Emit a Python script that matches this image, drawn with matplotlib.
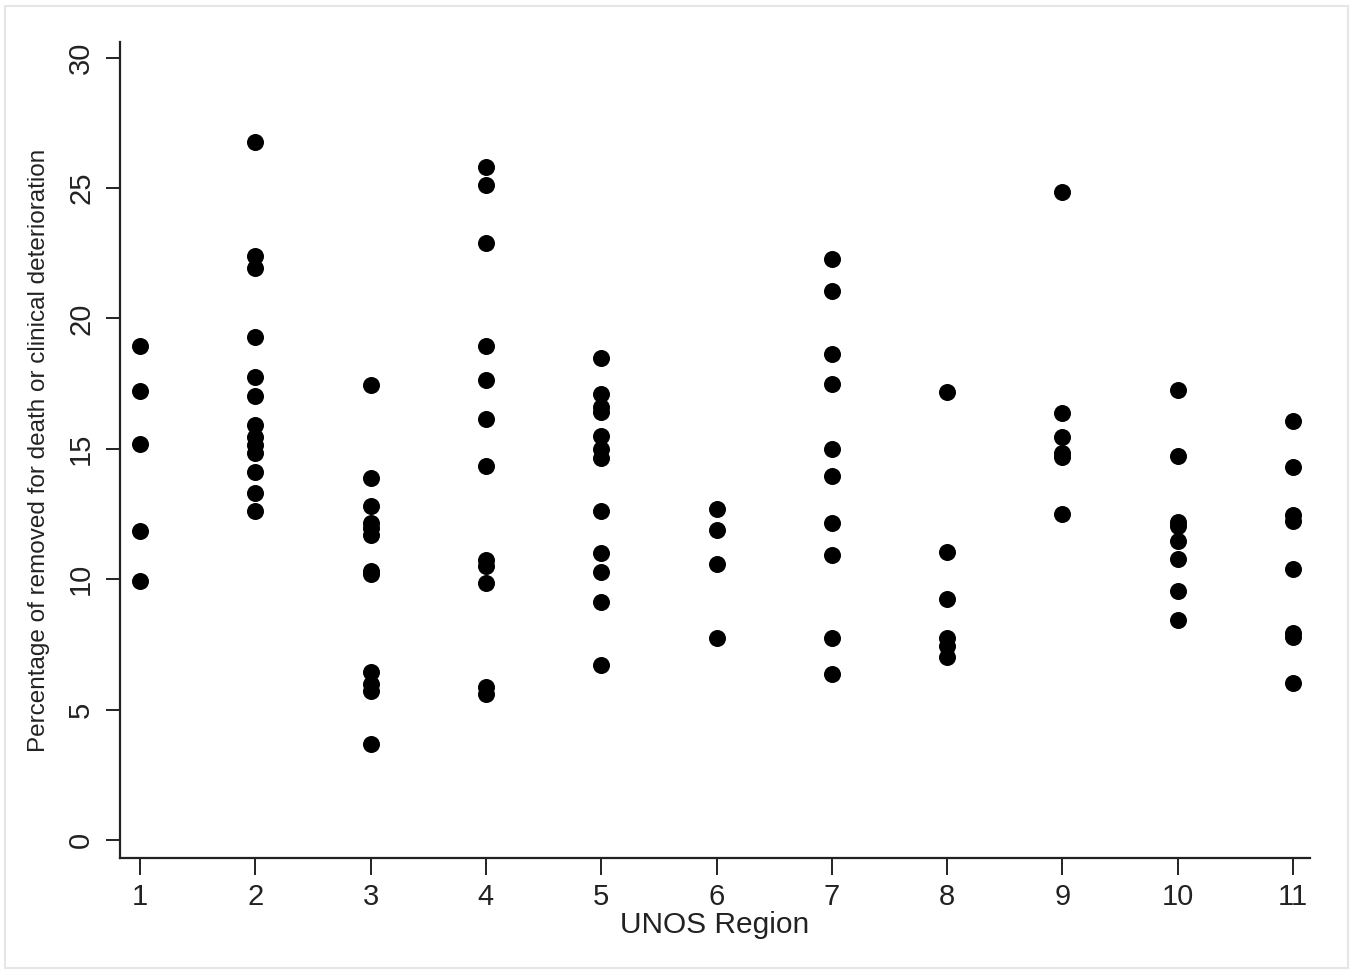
import matplotlib.pyplot as plt
from matplotlib.patches import Rectangle

plt.rcParams['font.family'] = ['Liberation Sans', 'DejaVu Sans']

# removal percentages per UNOS region
region1 = [18.95, 17.2, 15.2, 11.85, 9.95]
region2 = [26.75, 22.4, 21.95, 19.27, 17.75, 17.03, 15.9, 15.45, 15.15, 14.83, 14.13, 13.32, 12.63]
region3 = [17.43, 13.87, 12.79, 12.15, 11.95, 11.7, 10.3, 10.2, 6.46, 6.0, 5.7, 3.67]
region4 = [25.8, 25.12, 22.9, 18.96, 17.62, 16.16, 14.36, 10.75, 10.5, 9.87, 5.88, 5.6]
region5 = [18.47, 17.11, 16.6, 16.4, 15.5, 14.99, 14.64, 12.63, 11.02, 10.27, 9.12, 6.71]
region6 = [12.68, 11.87, 10.59, 7.76]
region7 = [22.29, 21.07, 18.62, 17.49, 15.0, 13.94, 12.15, 10.91, 7.76, 6.37]
region8 = [17.17, 11.06, 9.24, 7.74, 7.42, 7.03]
region9 = [24.86, 16.38, 15.47, 14.85, 14.67, 12.5]
region10 = [17.24, 14.71, 12.2, 12.05, 11.47, 10.78, 9.53, 8.43]
region11 = [16.06, 14.32, 12.45, 12.25, 10.41, 7.95, 7.8, 6.03]

regions = [region1, region2, region3, region4, region5, region6,
           region7, region8, region9, region10, region11]
y_ticks = [0, 5, 10, 15, 20, 25, 30]

fig = plt.figure(figsize=(13.55, 9.76), dpi=100)
fig.patches.append(Rectangle((0.004, 0.008), 0.991, 0.986, transform=fig.transFigure,
                             fill=False, edgecolor='#e6e6e6', linewidth=1.5))
ax = fig.add_axes([0.0886, 0.1209, 0.8782, 0.8361])

for i, vals in enumerate(regions):
    ax.scatter([i + 1] * len(vals), vals, s=150, color='black', linewidths=0, zorder=3)

ax.set_xlim(0.827, 11.147)
ax.set_ylim(-0.69, 30.6)
ax.set_xticks(range(1, 12))
ax.set_yticks(y_ticks)
ax.set_yticklabels([str(t) for t in y_ticks], rotation=90, va='center')

for side in ['top', 'right']:
    ax.spines[side].set_visible(False)
for side in ['left', 'bottom']:
    ax.spines[side].set_linewidth(1.6)
    ax.spines[side].set_color('#222222')

ax.tick_params(axis='x', length=12, width=1.4, labelsize=21, pad=6, colors='#222222')
ax.tick_params(axis='y', length=10, width=1.4, labelsize=21, pad=8, colors='#222222')

ax.set_xlabel('UNOS Region', fontsize=21.5, color='#222222', labelpad=0)
ax.set_ylabel('Percentage of removed for death or clinical deterioration',
              fontsize=17.5, color='#222222', labelpad=12)

plt.savefig('out.png', dpi=100)
